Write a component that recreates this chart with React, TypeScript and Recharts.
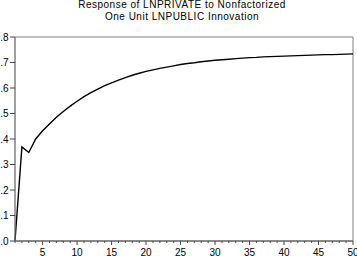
import { LineChart, Line, XAxis, YAxis, ReferenceArea } from 'recharts';

// impulse response of LNPRIVATE, periods 1..50
const response = [
  0.0, 0.369, 0.347, 0.4, 0.432, 0.459, 0.485, 0.508, 0.529, 0.548,
  0.566, 0.582, 0.596, 0.609, 0.62, 0.631, 0.641, 0.65, 0.658, 0.665,
  0.671, 0.677, 0.682, 0.687, 0.692, 0.696, 0.699, 0.703, 0.706, 0.709,
  0.711, 0.713, 0.715, 0.717, 0.719, 0.72, 0.722, 0.723, 0.724, 0.725,
  0.726, 0.727, 0.728, 0.729, 0.73, 0.731, 0.731, 0.732, 0.733, 0.734,
];
const xLabels = [5, 10, 15, 20, 25, 30, 35, 40, 45, 50];
const yTicks = [0, 0.1, 0.2, 0.3, 0.4, 0.5, 0.6, 0.7, 0.8];
const titleLines = ['Response of LNPRIVATE to Nonfactorized', 'One Unit LNPUBLIC Innovation'];

const data = response.map((value, i) => ({ period: i + 1, value }));
const xTicks = data.map((d) => d.period);

const FONT = 'Liberation Sans, Arial, sans-serif';

const renderXTick = (props: any) => {
  const { x, y, payload } = props;
  const major = xLabels.includes(payload.value);
  return (
    <g key={`xt-${payload.value}`}>
      <line x1={x} x2={x} y1={y} y2={y + (major ? 4 : 2)} stroke="#444" />
      {major ? (
        <text x={x} y={y + 14.5} textAnchor="middle" style={{ fontSize: 10, fontFamily: FONT, fill: '#000' }}>
          {String(payload.value)}
        </text>
      ) : null}
    </g>
  );
};

const renderYTick = (props: any) => {
  const { x, y, payload } = props;
  return (
    <g key={`yt-${payload.value}`}>
      <line x1={x - 5} x2={x} y1={y} y2={y} stroke="#444" />
      <text x={x - 6.5} y={y + 3.5} textAnchor="end" style={{ fontSize: 10, fontFamily: FONT, fill: '#000' }}>
        {Number(payload.value).toFixed(1)}
      </text>
    </g>
  );
};

export default function App() {
  return (
    <div style={{ position: 'absolute', left: 0, top: 0, width: 357, height: 256, background: '#fff', fontFamily: FONT }}>
      <LineChart width={357} height={256} data={data} margin={{ top: 37, right: 4, left: 0, bottom: 0 }}>
        <ReferenceArea x1={1} x2={50} y1={0} y2={0.8} fill="none" stroke="#808080" strokeWidth={1} ifOverflow="visible" />
        <XAxis
          dataKey="period"
          type="number"
          domain={[1, 50]}
          ticks={xTicks}
          interval={0}
          height={15}
          tickSize={0}
          tickMargin={0}
          tickLine={false}
          stroke="#555"
          tick={renderXTick}
        />
        <YAxis
          type="number"
          domain={[0, 0.8]}
          ticks={yTicks}
          interval={0}
          width={15}
          tickSize={0}
          tickMargin={0}
          tickLine={false}
          stroke="#808080"
          tick={renderYTick}
        />
        <Line
          dataKey="value"
          type="linear"
          stroke="#000"
          strokeWidth={1.4}
          dot={false}
          isAnimationActive={false}
        />
      </LineChart>
      <div
        style={{
          position: 'absolute',
          left: 0,
          top: -1.5,
          width: 364,
          textAlign: 'center',
          fontSize: 10,
          lineHeight: '12px',
          letterSpacing: 0.5,
          color: '#000',
        }}
      >
        {titleLines.map((line) => (
          <div key={line}>{line}</div>
        ))}
      </div>
    </div>
  );
}
